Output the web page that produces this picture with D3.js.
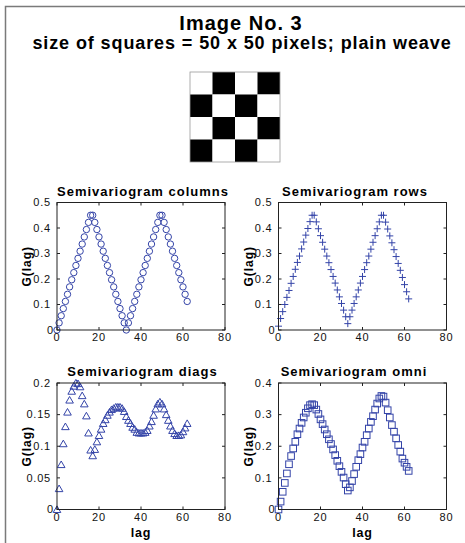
<!DOCTYPE html>
<html>
<head>
<meta charset="utf-8">
<script src="https://cdn.jsdelivr.net/npm/d3@7"></script>
<style>
  html, body { margin: 0; padding: 0; background: #fff; }
  svg { display: block; font-family: "Liberation Sans", Arial, Helvetica, sans-serif; }
</style>
</head>
<body>
<svg id="fig" width="465" height="543"></svg>
<script>
// Semivariogram values G(lag) for lags 0..62
const columnsG = [0,0.028,0.056,0.084,0.112,0.14,0.169,0.197,0.225,0.253,0.281,0.309,0.337,0.365,0.394,0.422,0.45,
  0.45,0.422,0.394,0.365,0.337,0.309,0.281,0.253,0.225,0.197,0.169,0.14,0.112,0.084,0.056,0.028,0,
  0.028,0.056,0.084,0.112,0.14,0.169,0.197,0.225,0.253,0.281,0.309,0.337,0.365,0.394,0.422,0.45,
  0.45,0.422,0.394,0.365,0.337,0.309,0.281,0.253,0.225,0.197,0.169,0.14,0.112];
const rowsG = [0.015,0.045,0.072,0.1,0.128,0.155,0.183,0.21,0.238,0.265,0.29,0.318,0.345,0.372,0.398,0.425,0.45,
  0.45,0.424,0.397,0.37,0.344,0.317,0.29,0.264,0.237,0.21,0.184,0.157,0.13,0.104,0.078,0.052,0.025,
  0.052,0.078,0.104,0.13,0.157,0.184,0.21,0.237,0.264,0.29,0.317,0.344,0.37,0.397,0.424,0.45,
  0.45,0.423,0.396,0.369,0.342,0.315,0.288,0.261,0.234,0.206,0.178,0.15,0.122];
const diagsG = [0,0.033,0.071,0.104,0.131,0.154,0.173,0.187,0.195,0.2,0.199,0.194,0.18,0.167,0.148,0.121,0.094,0.085,0.095,0.107,
  0.117,0.127,0.136,0.142,0.149,0.154,0.158,0.16,0.162,0.162,0.162,0.16,0.155,0.147,0.141,0.136,0.13,0.127,0.122,0.121,
  0.121,0.121,0.122,0.125,0.132,0.139,0.149,0.159,0.167,0.17,0.167,0.159,0.15,0.141,0.132,0.125,0.12,0.117,0.117,0.118,
  0.123,0.129,0.136];
const omniG = [0,0.025,0.056,0.084,0.114,0.143,0.169,0.193,0.214,0.238,0.256,0.274,0.291,0.306,0.32,0.33,0.333,0.33,0.316,0.302,
  0.285,0.27,0.253,0.238,0.222,0.207,0.19,0.172,0.154,0.137,0.119,0.101,0.08,0.06,0.07,0.09,0.112,0.135,0.156,0.175,
  0.196,0.214,0.235,0.256,0.277,0.295,0.316,0.335,0.351,0.359,0.357,0.338,0.314,0.291,0.267,0.246,0.225,0.204,0.183,0.161,
  0.148,0.135,0.122];

// Axis ticks
const xTicks = [0, 20, 40, 60, 80];
const yTicksHalf = [0, 0.1, 0.2, 0.3, 0.4, 0.5];
const yTicksDiags = [0, 0.05, 0.1, 0.15, 0.2];
const yTicksOmni = [0, 0.1, 0.2, 0.3, 0.4];

// 4x4 plain-weave pattern (1 = black square)
const weave = [
  [0, 1, 0, 1],
  [1, 0, 1, 0],
  [0, 1, 0, 1],
  [1, 0, 1, 0]
];

const markColor = "#3444a8";
const svg = d3.select("#fig");

// outer figure frame
svg.append("rect")
  .attr("x", 5.5).attr("y", 6.5).attr("width", 480).attr("height", 560)
  .attr("fill", "none").attr("stroke", "#7a7a7a").attr("stroke-width", 1.5);

// headings
svg.append("text").attr("x", 241).attr("y", 30)
  .attr("text-anchor", "middle").attr("font-size", 20).attr("font-weight", "bold")
  .attr("letter-spacing", 1).text("Image No. 3");
svg.append("text").attr("x", 242).attr("y", 49)
  .attr("text-anchor", "middle").attr("font-size", 18).attr("font-weight", "bold")
  .attr("letter-spacing", 0.9).text("size of squares = 50 x 50 pixels; plain weave");

// weave image
const cell = d3.scaleBand().domain(d3.range(4)).range([0, 90]);
const img = svg.append("g").attr("transform", "translate(190,72)");
weave.forEach((row, r) => {
  row.forEach((v, c) => {
    img.append("rect")
      .attr("x", cell(c)).attr("y", cell(r))
      .attr("width", cell.bandwidth()).attr("height", cell.bandwidth())
      .attr("fill", v ? "#000" : "#fff");
  });
});
img.append("rect").attr("x", 0).attr("y", 0).attr("width", 90).attr("height", 90)
  .attr("fill", "none").attr("stroke", "#999").attr("stroke-width", 0.8);

// marker drawers (centred on the data point)
const markers = {
  circle: (g) => g.append("circle").attr("r", 3.2),
  plus: (g) => g.append("path").attr("d", "M-3.5,0H3.5M0,-3.5V3.5"),
  triangle: (g) => g.append("path").attr("d", "M0,-3.6L3.8,3L-3.8,3Z"),
  square: (g) => g.append("rect").attr("x", -3.3).attr("y", -3.3).attr("width", 6.6).attr("height", 6.6)
};

const panels = [
  { title: "Semivariogram columns", values: columnsG, yMax: 0.5, yTicks: yTicksHalf, marker: "circle",
    left: 57, right: 225, top: 202.5, bottom: 330, titleX: 143, xlabel: false },
  { title: "Semivariogram rows", values: rowsG, yMax: 0.5, yTicks: yTicksHalf, marker: "plus",
    left: 278.5, right: 446.5, top: 202.5, bottom: 330, titleX: 355, xlabel: false },
  { title: "Semivariogram diags", values: diagsG, yMax: 0.2, yTicks: yTicksDiags, marker: "triangle",
    left: 57, right: 225, top: 383, bottom: 509.5, titleX: 142.5, xlabel: true },
  { title: "Semivariogram omni", values: omniG, yMax: 0.4, yTicks: yTicksOmni, marker: "square",
    left: 278.5, right: 446.5, top: 383, bottom: 509.5, titleX: 354, xlabel: true }
];

const tickLen = 3;
const fmt = d3.format("~g");

panels.forEach(p => {
  const x = d3.scaleLinear().domain([0, 80]).range([p.left, p.right]);
  const y = d3.scaleLinear().domain([0, p.yMax]).range([p.bottom, p.top]);
  const g = svg.append("g");

  // data markers
  const pts = g.append("g")
    .attr("fill", "none").attr("stroke", markColor).attr("stroke-width", 1);
  p.values.forEach((v, lag) => {
    const m = pts.append("g").attr("transform", `translate(${x(lag)},${y(v)})`);
    markers[p.marker](m);
  });

  // axes box
  g.append("rect")
    .attr("x", p.left).attr("y", p.top)
    .attr("width", p.right - p.left).attr("height", p.bottom - p.top)
    .attr("fill", "none").attr("stroke", "#222").attr("stroke-width", 1);

  // inward ticks on all four sides
  const ticks = g.append("g").attr("stroke", "#222").attr("stroke-width", 1);
  xTicks.forEach(t => {
    ticks.append("line").attr("x1", x(t)).attr("x2", x(t)).attr("y1", p.bottom).attr("y2", p.bottom - tickLen);
    ticks.append("line").attr("x1", x(t)).attr("x2", x(t)).attr("y1", p.top).attr("y2", p.top + tickLen);
  });
  p.yTicks.forEach(t => {
    ticks.append("line").attr("x1", p.left).attr("x2", p.left + tickLen).attr("y1", y(t)).attr("y2", y(t));
    ticks.append("line").attr("x1", p.right).attr("x2", p.right - tickLen).attr("y1", y(t)).attr("y2", y(t));
  });

  // tick labels
  const labels = g.append("g").attr("font-size", 11).attr("fill", "#111").attr("letter-spacing", 0.8);
  xTicks.forEach(t => {
    labels.append("text").attr("x", x(t)).attr("y", p.bottom + 11)
      .attr("text-anchor", "middle").text(fmt(t));
  });
  p.yTicks.forEach(t => {
    labels.append("text").attr("x", p.left - (t === 0 ? 3 : 6)).attr("y", y(t)).attr("dy", "0.35em")
      .attr("text-anchor", "end").text(fmt(t));
  });

  // panel title
  g.append("text").attr("x", p.titleX).attr("y", p.top - 7)
    .attr("text-anchor", "middle").attr("font-size", 13).attr("font-weight", "bold")
    .attr("letter-spacing", 1).text(p.title);

  // y label
  const cy = (p.top + p.bottom) / 2;
  g.append("text")
    .attr("transform", `translate(${p.left - 26},${cy}) rotate(-90)`)
    .attr("text-anchor", "middle").attr("font-size", 12).attr("font-weight", "bold")
    .attr("letter-spacing", 1).text("G(lag)");

  // x label
  if (p.xlabel) {
    g.append("text").attr("x", (p.left + p.right) / 2).attr("y", p.bottom + 27)
      .attr("text-anchor", "middle").attr("font-size", 12.5).attr("font-weight", "bold")
      .attr("letter-spacing", 0.8).text("lag");
  }
});
</script>
</body>
</html>
